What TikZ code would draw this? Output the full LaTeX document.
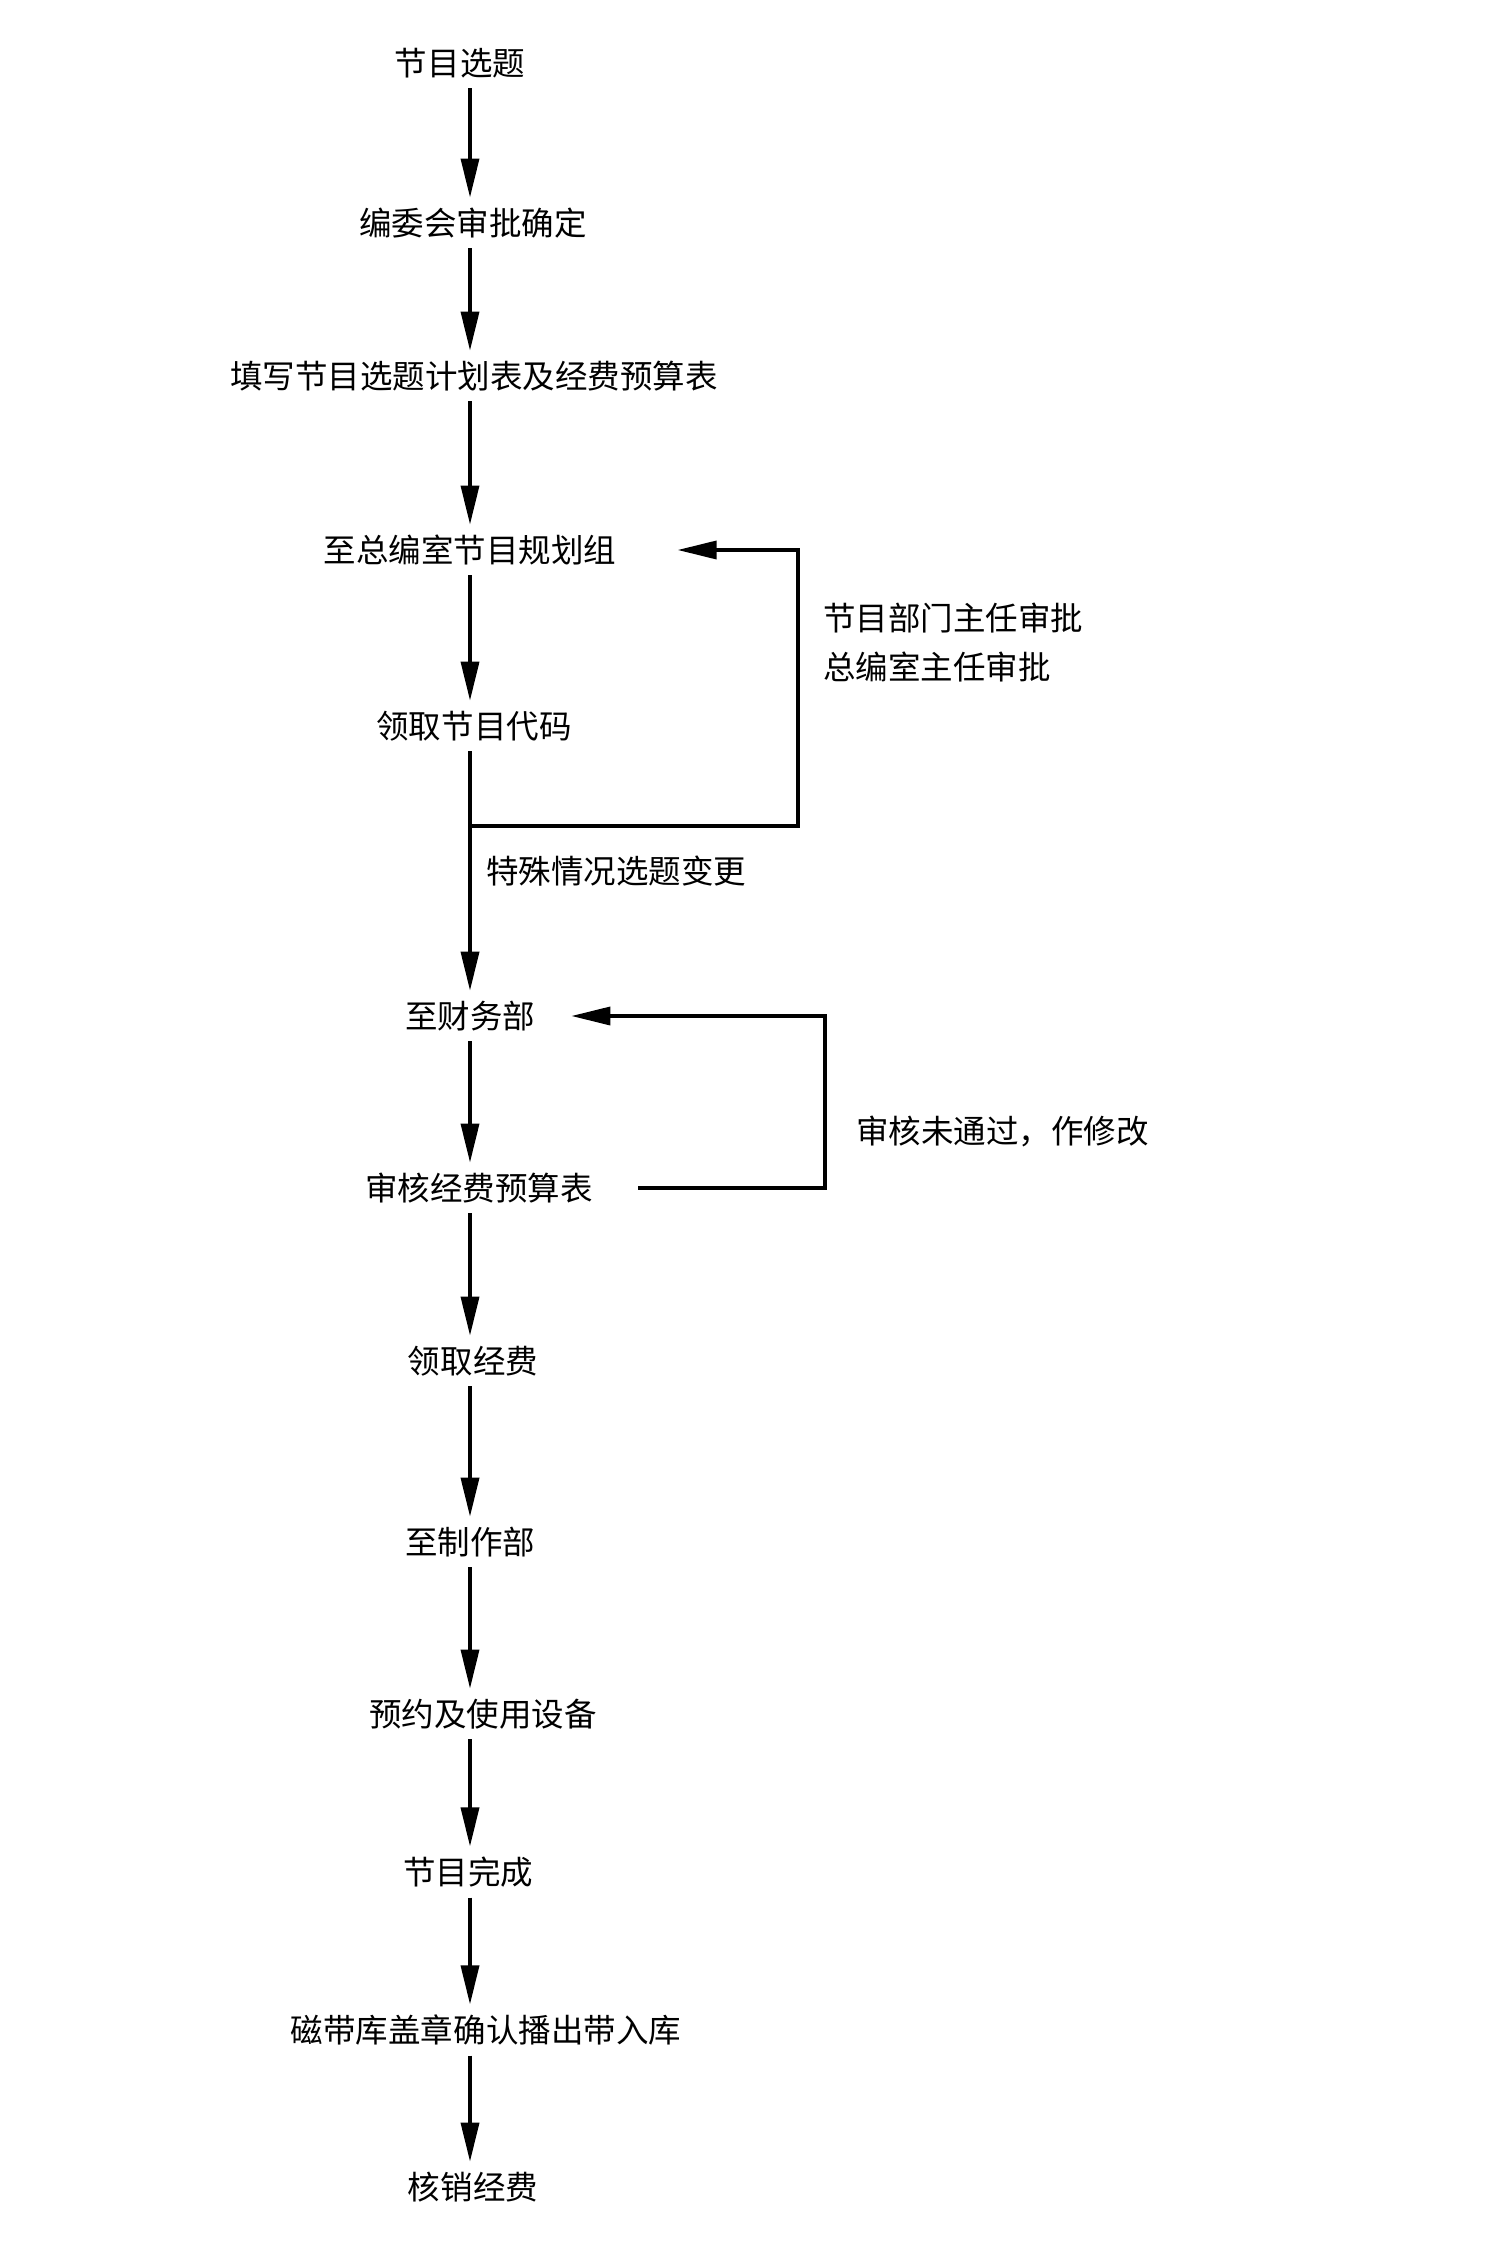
\documentclass[tikz,border=0pt]{standalone}
\usepackage{fontspec}
\setmainfont{Noto Sans CJK SC}
\usetikzlibrary{arrows.meta}
\tikzset{
  stage/.style={inner sep=0.2cm, font=\fontsize{18.5}{20}\selectfont},
  note/.style={inner sep=0pt, anchor=west, font=\fontsize{18.5}{20}\selectfont},
  flow/.style={line width=2pt, -{Triangle[width=0.36cm,length=0.78cm]}},
}
\begin{document}
\begin{tikzpicture}[x=0.02cm,y=-0.02cm]
\useasboundingbox (0,0) rectangle (1509,2253);
\coordinate (axis) at (470,0);

% main stages
\node[stage] (p1) at (460,63) {节目选题};
\node[stage] (p2) at (473,223) {编委会审批确定};
\node[stage] (p3) at (474,376) {填写节目选题计划表及经费预算表};
\node[stage] (p4) at (470,550) {至总编室节目规划组};
\node[stage] (p5) at (474,726) {领取节目代码};
\node[stage] (p6) at (470,1016) {至财务部};
\node[stage] (p7) at (479,1188) {审核经费预算表};
\node[stage] (p8) at (473,1361) {领取经费};
\node[stage] (p9) at (470,1542) {至制作部};
\node[stage] (p10) at (483,1714) {预约及使用设备};
\node[stage] (p11) at (468,1872) {节目完成};
\node[stage] (p12) at (486,2030) {磁带库盖章确认播出带入库};
\node[stage] (p13) at (473,2187) {核销经费};

% side notes
\node[note] (n1) at (823,618) {节目部门主任审批};
\node[note] (n2) at (823,667) {总编室主任审批};
\node[note] (n3) at (486,871) {特殊情况选题变更};
\node[note] (n4) at (856,1131) {审核未通过，作修改};

% spine
\foreach \a/\b in {p1/p2,p2/p3,p3/p4,p4/p5,p5/p6,p6/p7,p7/p8,p8/p9,p9/p10,p10/p11,p11/p12,p12/p13}
  \draw[flow] (\a.south -| axis) -- (\b.north -| axis);

% feedback loops
\coordinate (j1) at (470,826);
\coordinate (c1) at (798,826);
\draw[flow] (j1) -- (c1) -- (c1 |- p4.east) -- ([xshift=1.02cm]p4.east);
\coordinate (c2) at (825,1188);
\draw[flow] ([xshift=0.7cm]p7.east) -- (c2) -- (c2 |- p6.east) -- ([xshift=0.52cm]p6.east);
\end{tikzpicture}
\end{document}
